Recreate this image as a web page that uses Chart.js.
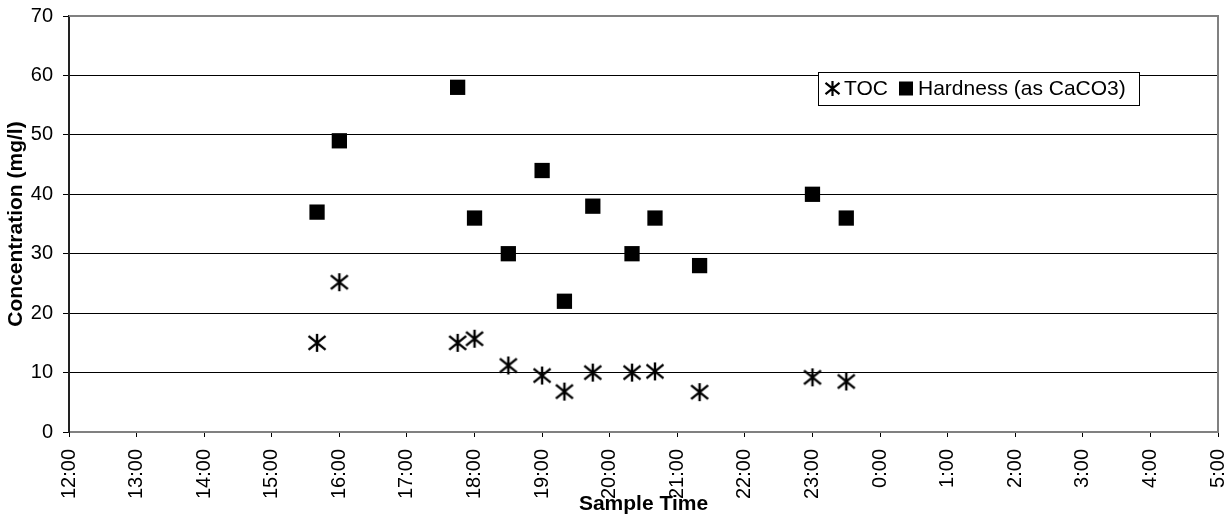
<!DOCTYPE html>
<html>
<head>
<meta charset="utf-8">
<script src="https://cdn.jsdelivr.net/npm/chart.js@4"></script>
<style>
  html, body { margin: 0; padding: 0; background: #fff; }
  #wrap { width: 1230px; height: 518px; position: relative; }
</style>
</head>
<body>
<div id="wrap"><canvas id="chart"></canvas></div>
<script>
// sample times in hours from midnight of the first day (24+ = next morning)
const sampleHours = [15.67, 16, 17.75, 18, 18.5, 19, 19.33, 19.75, 20.33, 20.67, 21.33, 23, 23.5];
const tocValues = [15, 25.2, 15, 15.7, 11.2, 9.5, 6.8, 10, 10, 10.2, 6.7, 9.2, 8.5];
const hardnessValues = [37, 49, 58, 36, 30, 44, 22, 38, 30, 36, 28, 40, 36];
const seriesLabels = ['TOC', 'Hardness (as CaCO3)'];
const xMin = 12, xMax = 29;   // 12:00 .. 5:00 next day
const yMin = 0, yMax = 70;

const FONT = '"Liberation Sans", Arial, sans-serif';

// Excel style star marker: an X with a vertical bar
function drawStar(ctx, cx, cy, w, h, lw) {
  ctx.save();
  ctx.strokeStyle = '#000';
  ctx.lineWidth = lw;
  ctx.beginPath();
  ctx.moveTo(cx - w / 2, cy - h * 0.38);
  ctx.lineTo(cx + w / 2, cy + h * 0.38);
  ctx.moveTo(cx + w / 2, cy - h * 0.38);
  ctx.lineTo(cx - w / 2, cy + h * 0.38);
  ctx.moveTo(cx, cy - h / 2);
  ctx.lineTo(cx, cy + h / 2);
  ctx.stroke();
  ctx.restore();
}

const starImg = document.createElement('canvas');
starImg.width = 22;
starImg.height = 22;
drawStar(starImg.getContext('2d'), 11, 11, 17, 18, 2.4);

const toXY = (vals) => vals.map((v, i) => ({ x: sampleHours[i], y: v }));

const frame = {
  id: 'frame',
  afterDatasetsDraw(chart) {
    const { ctx, chartArea: a } = chart;
    ctx.save();
    ctx.strokeStyle = '#808080';
    ctx.lineWidth = 2;
    ctx.beginPath();
    ctx.moveTo(a.left, a.top);
    ctx.lineTo(a.right, a.top);
    ctx.lineTo(a.right, a.bottom);
    ctx.stroke();
    ctx.restore();
  }
};

const boxLegend = {
  id: 'boxLegend',
  afterDraw(chart) {
    const { ctx, chartArea: a } = chart;
    const left = a.right - 400, top = a.top + 56, w = 321, h = 33;
    const cy = top + h / 2;
    ctx.save();
    ctx.fillStyle = '#fff';
    ctx.fillRect(left, top, w, h);
    ctx.strokeStyle = '#000';
    ctx.lineWidth = 1;
    ctx.strokeRect(left + 0.5, top + 0.5, w, h);

    drawStar(ctx, left + 14.5, cy, 14, 15, 2.2);
    ctx.font = '21px ' + FONT;
    ctx.fillStyle = '#000';
    ctx.textBaseline = 'middle';
    ctx.fillText(seriesLabels[0], left + 26, cy + 1);

    ctx.fillRect(left + 81, cy - 7, 14, 14);
    ctx.fillText(seriesLabels[1], left + 100, cy + 1);
    ctx.restore();
  }
};

new Chart(document.getElementById('chart'), {
  type: 'scatter',
  data: {
    datasets: [
      {
        label: seriesLabels[0],
        data: toXY(tocValues),
        pointStyle: starImg,
        pointRadius: 10,
        backgroundColor: '#000',
        borderColor: '#000'
      },
      {
        label: seriesLabels[1],
        data: toXY(hardnessValues),
        pointStyle: 'rect',
        pointRadius: 10.8,
        borderWidth: 0,
        backgroundColor: '#000',
        borderColor: '#000'
      }
    ]
  },
  options: {
    responsive: true,
    maintainAspectRatio: false,
    animation: false,
    layout: { padding: { left: 0, top: 16, right: 12, bottom: 0 } },
    plugins: {
      legend: { display: false },
      tooltip: { enabled: false }
    },
    scales: {
      x: {
        type: 'linear',
        min: xMin,
        max: xMax,
        afterFit(scale) {
          scale.height = 86;
          scale.paddingLeft = 0;
          scale.paddingRight = 0;
        },
        border: { color: '#808080', width: 2 },
        grid: { drawOnChartArea: false, drawTicks: true, tickLength: 5, color: '#000' },
        ticks: {
          stepSize: 1,
          autoSkip: false,
          maxRotation: 90,
          minRotation: 90,
          padding: 12,
          color: '#000',
          font: { family: FONT, size: 20 },
          callback: (v) => `${v % 24}:00`
        },
        title: {
          display: true,
          text: 'Sample Time',
          color: '#000',
          font: { family: FONT, size: 21, weight: 'bold', lineHeight: 1.2 },
          padding: { top: 0, bottom: 1 }
        }
      },
      y: {
        min: yMin,
        max: yMax,
        afterFit(scale) {
          scale.width = 69;
          scale.paddingTop = 0;
          scale.paddingBottom = 0;
        },
        border: { color: '#222', width: 2 },
        grid: { color: '#000', lineWidth: 1, tickLength: 6 },
        ticks: {
          stepSize: 10,
          padding: 10,
          color: '#000',
          font: { family: FONT, size: 20 }
        },
        title: {
          display: true,
          text: 'Concentration (mg/l)',
          color: '#000',
          font: { family: FONT, size: 21, weight: 'bold', lineHeight: 1.2 },
          padding: { top: 4, bottom: 0 }
        }
      }
    }
  },
  plugins: [frame, boxLegend]
});
</script>
</body>
</html>
